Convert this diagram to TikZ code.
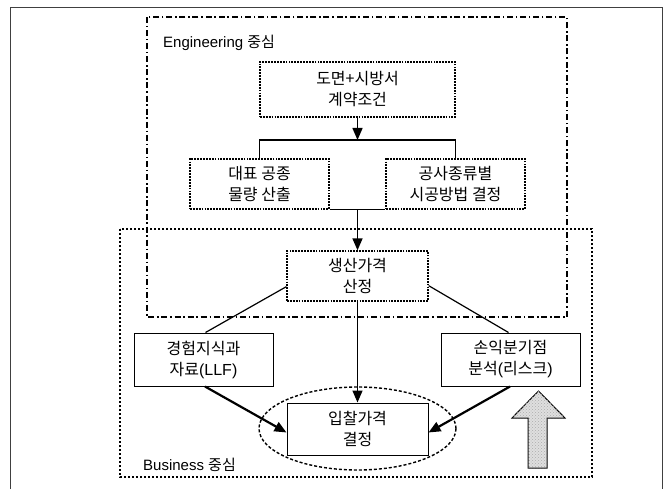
\documentclass[tikz,border=0pt]{standalone}
\usepackage{fontspec}
\setmainfont{Liberation Sans}
\newfontfamily\kr{Noto Sans CJK KR}
\usetikzlibrary{arrows.meta,shapes.geometric,patterns}
\begin{document}
\begin{tikzpicture}[x=1pt,y=-1pt,
  engframe/.style={line width=1.6pt, dash pattern=on 6pt off 2.8pt on 1.5pt off 2.8pt},
  busframe/.style={line width=1.8pt, dash pattern=on 2.4pt off 1.6pt},
  dotbox/.style={draw, line width=1.3pt, dash pattern=on 1.8pt off 1.1pt, align=center,
    inner sep=0pt, font=\kr\fontsize{16}{21}\selectfont},
  solbox/.style={draw, line width=1pt, align=center, inner sep=0pt,
    font=\kr\fontsize{16}{21}\selectfont},
  lbl/.style={anchor=west, inner sep=0pt, font=\fontsize{15}{18}\selectfont},
  arr/.style={line width=1.4pt, -{Triangle[length=12pt,width=10pt]}},
  thickarr/.style={line width=2.2pt, -{Triangle[length=12pt,width=10pt]}},
  conn/.style={line width=1.2pt}
]
\useasboundingbox (0,0) rectangle (668,489);
% outer frame
\draw[line width=1pt, black!75] (10,489) -- (10,7.5) -- (662,7.5) -- (662,489);
% group frames
\draw[engframe] (147,17) rectangle (567,317);
\draw[busframe] (120,229) rectangle (592,477);
\node[lbl] (englbl) at (163,43) {Engineering {\kr 중심}};
\node[lbl] (buslbl) at (143,465) {Business {\kr 중심}};
% nodes
\node[dotbox, minimum width=195pt, minimum height=55pt] (top) at (357.5,89.5) {도면+시방서\\계약조건};
\node[dotbox, minimum width=139pt, minimum height=50pt] (qty) at (259.5,184) {대표 공종\\물량 산출};
\node[dotbox, minimum width=139pt, minimum height=50pt] (meth) at (455.5,184) {공사종류별\\시공방법 결정};
\node[dotbox, minimum width=141pt, minimum height=50pt] (prod) at (357.5,276) {생산가격\\산정};
\node[solbox, minimum width=139pt, minimum height=53pt] (exp) at (203.5,359.5) {경험지식과\\자료{\rmfamily(LLF)}};
\node[solbox, minimum width=139pt, minimum height=53pt] (risk) at (510.5,359.5) {손익분기점\\분석{\rmfamily(}리스크{\rmfamily)}};
\node[solbox, minimum width=141pt, minimum height=52pt] (bid) at (357.5,429) {입찰가격\\결정};
\node[draw, ellipse, line width=1.4pt, dash pattern=on 3pt off 2pt,
  minimum width=197pt, minimum height=83pt] (ell) at (357.5,428.5) {};
% connectors
\coordinate (j1) at (357.5,140);
\draw[arr] (top.south) -- (j1);
\draw[conn] (qty.north) |- (j1) -| (meth.north);
\draw[conn] (qty.south east) -- (meth.south west);
\coordinate (j2) at (357.5,209);
\draw[arr] (j2) -- (prod.north);
\draw[conn] ([yshift=15pt]prod.south west) -- ([xshift=2pt]exp.north);
\draw[conn] ([yshift=16pt]prod.south east) -- ([xshift=-2pt]risk.north);
\draw[arr] (prod.south) -- (bid.north);
\draw[thickarr] ([xshift=1.5pt]exp.south) -- ([yshift=-30pt]bid.north west);
\draw[thickarr] ([xshift=-0.5pt]risk.south) -- ([yshift=-30pt]bid.north east);
% big up arrow
\draw[line width=1pt, fill=gray!25, postaction={pattern=crosshatch dots, pattern color=gray!65}]
  (538.5,391) -- (565,418) -- (547,418) -- (547,468) -- (528,468) -- (528,418) -- (512,418) -- cycle;
\end{tikzpicture}
\end{document}
